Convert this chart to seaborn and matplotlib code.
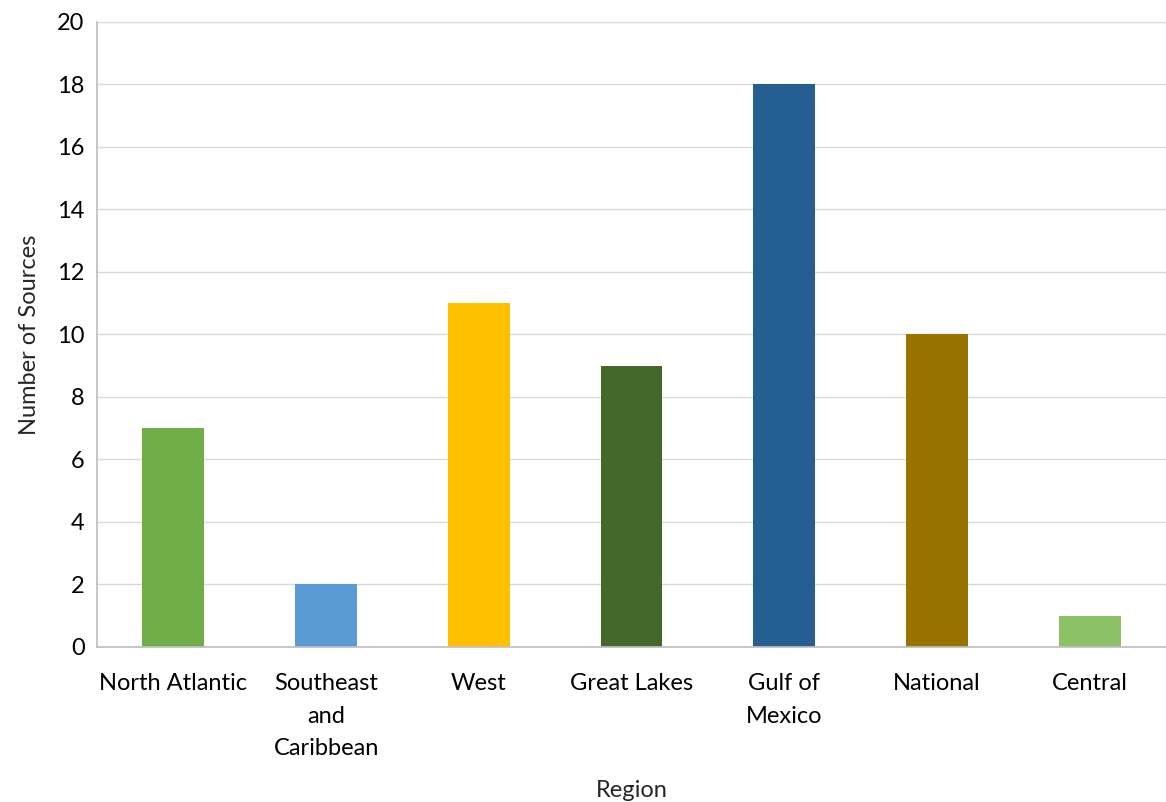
import matplotlib
matplotlib.use("Agg")
import matplotlib.pyplot as plt
import seaborn as sns
import pandas as pd

regions = ["North Atlantic", "Southeast\nand\nCaribbean", "West", "Great Lakes",
           "Gulf of\nMexico", "National", "Central"]
sources = [7, 2, 11, 9, 18, 10, 1]
colors = ["#70AD47", "#5B9BD5", "#FFC000", "#43682B", "#255E91", "#997300", "#8CC168"]

sns.set_theme(style="white")
plt.rcParams['font.family'] = ['Lato', 'DejaVu Sans']

df = pd.DataFrame({"Region": regions, "Sources": sources})

fig = plt.figure(figsize=(11.66, 8.02), dpi=100)
ax = fig.add_axes([0.0832, 0.1933, 0.9168, 0.7793])
sns.barplot(data=df, x="Region", y="Sources", hue="Region", palette=colors,
            width=0.405, legend=False, ax=ax, saturation=1, linewidth=0)

ax.set_ylim(0, 20)
ax.set_yticks(range(0, 21, 2))
ax.yaxis.grid(True, color="#D9D9D9", linewidth=1)
ax.set_axisbelow(True)
for s in ["top", "right"]:
    ax.spines[s].set_visible(False)
ax.spines["left"].set_color("#BFBFBF")
ax.spines["bottom"].set_color("#BFBFBF")
ax.tick_params(axis="both", length=0, labelsize=17, colors="#000000")
ax.tick_params(axis="x", pad=19)
ax.tick_params(axis="y", pad=9)
ax.set_xlabel("Region", fontsize=17, labelpad=15)
ax.set_ylabel("Number of Sources", fontsize=17, labelpad=12)
for lab in ax.get_xticklabels():
    lab.set_verticalalignment("top")
    lab.set_linespacing(1.66)

fig.savefig("out.png", dpi=100)
